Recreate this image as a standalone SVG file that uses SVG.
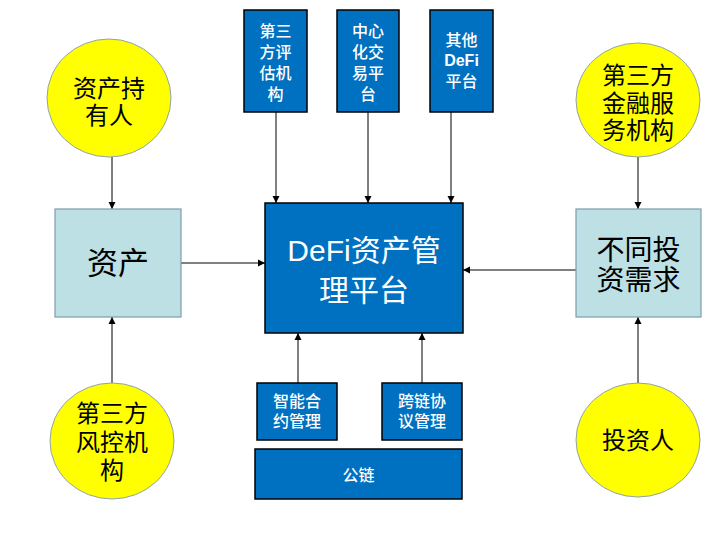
<svg xmlns="http://www.w3.org/2000/svg" width="720" height="540" viewBox="0 0 720 540">
<defs>
<marker id="arr" markerWidth="8" markerHeight="8" refX="7" refY="4" orient="auto" markerUnits="userSpaceOnUse">
<path d="M0,0.5 L7,4 L0,7.5 Z" fill="#000"/>
</marker>
<style>
.blue{fill:#0070C0;stroke:#000;stroke-width:1.5}
.cyan{fill:#BCE0E4;stroke:#7F9DAE;stroke-width:1.2}
.circ{fill:#FFFF00;stroke:#8FA3B0;stroke-width:1}
.wt{fill:#fff;font-family:"Liberation Sans","Noto Sans CJK SC",sans-serif;font-weight:500;text-anchor:middle}
.bt{fill:#000;font-family:"Noto Sans CJK SC",sans-serif;text-anchor:middle}
.b{font-weight:bold}
.ln{stroke:#000;stroke-width:1;fill:none;marker-end:url(#arr)}
</style>
</defs>
<rect width="720" height="540" fill="#fff"/>
<g id="connectors">
<line class="ln" x1="276" y1="112" x2="276" y2="203"/>
<line class="ln" x1="368" y1="112" x2="368" y2="203"/>
<line class="ln" x1="451" y1="112" x2="451" y2="203"/>
<line class="ln" x1="181" y1="263" x2="265" y2="263"/>
<line class="ln" x1="576" y1="270" x2="463" y2="270"/>
<line class="ln" x1="298" y1="383" x2="298" y2="333"/>
<line class="ln" x1="422" y1="383" x2="422" y2="333"/>
<line class="ln" x1="112" y1="157" x2="112" y2="209"/>
<line class="ln" x1="112" y1="383" x2="112" y2="317"/>
<line class="ln" x1="638" y1="157" x2="638" y2="209"/>
<line class="ln" x1="638" y1="383" x2="638" y2="317"/>
</g>
<g id="n-eval">
<rect class="blue" x="244" y="10" width="63" height="102"/>
<text class="wt" font-size="16"><tspan x="275.5" y="37">第三</tspan><tspan x="275.5" y="58">方评</tspan><tspan x="275.5" y="79">估机</tspan><tspan x="275.5" y="100">构</tspan></text>
</g>
<g id="n-cex">
<rect class="blue" x="337" y="10" width="62" height="102"/>
<text class="wt" font-size="16"><tspan x="368" y="37">中心</tspan><tspan x="368" y="58">化交</tspan><tspan x="368" y="79">易平</tspan><tspan x="368" y="100">台</tspan></text>
</g>
<g id="n-otherdefi">
<rect class="blue" x="430" y="10" width="63" height="102"/>
<text class="wt" font-size="16"><tspan x="461.5" y="46">其他</tspan><tspan class="b" x="461.5" y="66">DeFi</tspan><tspan x="461.5" y="87">平台</tspan></text>
</g>
<g id="n-main">
<rect class="blue" x="265" y="203" width="198" height="130"/>
<text class="wt" font-size="30" style="font-weight:normal"><tspan x="364" y="261">DeFi资产管</tspan><tspan x="364" y="301">理平台</tspan></text>
</g>
<g id="n-smart">
<rect class="blue" x="257" y="383" width="80" height="57"/>
<text class="wt" font-size="16"><tspan x="297" y="407">智能合</tspan><tspan x="297" y="427">约管理</tspan></text>
</g>
<g id="n-cross">
<rect class="blue" x="382" y="383" width="80" height="57"/>
<text class="wt" font-size="16"><tspan x="422" y="407">跨链协</tspan><tspan x="422" y="427">议管理</tspan></text>
</g>
<g id="n-chain">
<rect class="blue" x="255" y="449" width="207" height="50"/>
<text class="wt" font-size="16" x="358.5" y="481">公链</text>
</g>
<g id="n-holder">
<ellipse class="circ" cx="109" cy="98" rx="62" ry="59"/>
<text class="bt" font-size="24"><tspan x="109" y="97">资产持</tspan><tspan x="109" y="124">有人</tspan></text>
</g>
<g id="n-asset">
<rect class="cyan" x="55" y="209" width="126" height="108"/>
<text class="bt" font-size="31" x="118" y="274">资产</text>
</g>
<g id="n-risk">
<ellipse class="circ" cx="112" cy="441" rx="62" ry="58"/>
<text class="bt" font-size="24"><tspan x="112" y="422">第三方</tspan><tspan x="112" y="451">风控机</tspan><tspan x="112" y="479">构</tspan></text>
</g>
<g id="n-finsvc">
<ellipse class="circ" cx="638" cy="100" rx="62" ry="57"/>
<text class="bt" font-size="24"><tspan x="638" y="84">第三方</tspan><tspan x="638" y="112">金融服</tspan><tspan x="638" y="139">务机构</tspan></text>
</g>
<g id="n-demand">
<rect class="cyan" x="576" y="209" width="125" height="108"/>
<text class="bt" font-size="28"><tspan x="638.5" y="260">不同投</tspan><tspan x="638.5" y="290">资需求</tspan></text>
</g>
<g id="n-investor">
<ellipse class="circ" cx="638" cy="440" rx="62" ry="57"/>
<text class="bt" font-size="24" x="638" y="449">投资人</text>
</g>
</svg>
